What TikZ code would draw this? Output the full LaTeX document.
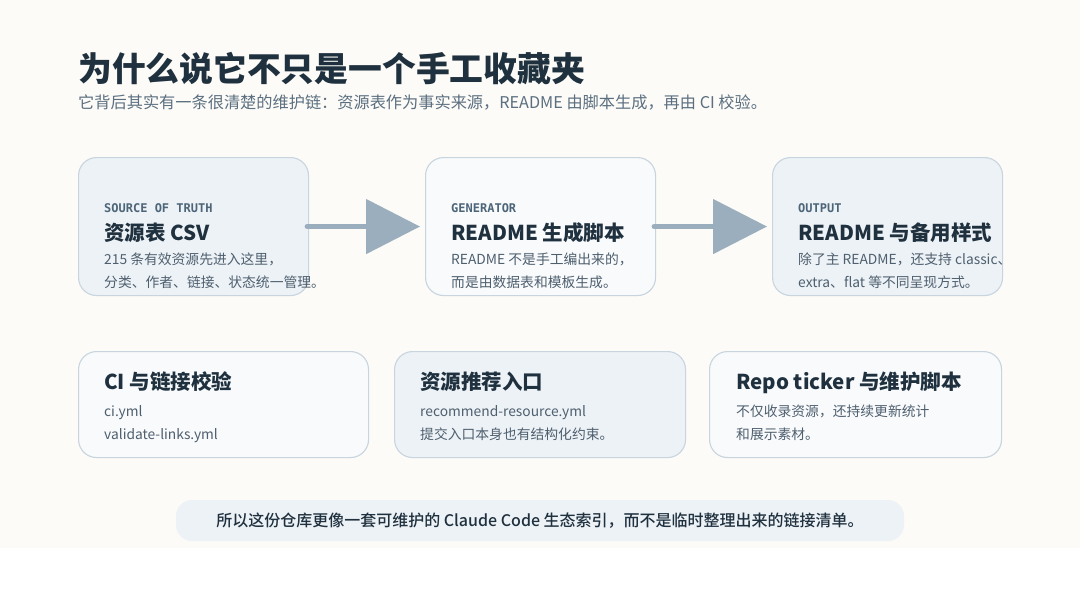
\documentclass[tikz,border=0pt]{standalone}
\usepackage{fontspec}
\setmainfont{Noto Sans CJK SC}
\newfontfamily\cjk{Noto Sans CJK SC}
\newfontfamily\cjkmed{Noto Sans CJK SC Medium}
\newfontfamily\monof{DejaVu Sans Mono}
\usetikzlibrary{arrows.meta}
\definecolor{bgcream}{HTML}{FCFBF7}
\definecolor{boxA}{HTML}{EDF2F6}
\definecolor{boxB}{HTML}{F8FAFC}
\definecolor{boxline}{HTML}{C8D5DF}
\definecolor{arrowc}{HTML}{9AAEBE}
\definecolor{titlec}{HTML}{1F303E}
\definecolor{subc}{HTML}{5B6F80}
\definecolor{labelc}{HTML}{4D6579}
\definecolor{bodyc}{HTML}{4E5F6E}
\definecolor{bannerc}{HTML}{EDF2F6}
\tikzset{
  card/.style={draw=boxline, line width=1.1pt, rounded corners=18pt, anchor=north west, inner sep=0pt},
  lbl/.style={anchor=base west, inner sep=0pt, text=labelc, font=\monof\bfseries\fontsize{12}{14}\selectfont},
  ctitle/.style={anchor=base west, inner sep=0pt, text=titlec, font=\cjk\bfseries\fontsize{20.5}{24}\selectfont},
  cbody/.style={anchor=base west, inner sep=0pt, text=bodyc, font=\cjk\fontsize{13.8}{16}\selectfont},
  flow/.style={draw=arrowc, line width=5pt, line cap=round, -{Triangle[length=54pt,width=54pt]}, shorten >=5pt}
}
\begin{document}
\begin{tikzpicture}[x=1pt,y=-1pt]
\useasboundingbox (0,0) rectangle (1080,608);
\fill[white] (0,0) rectangle (1080,608);
\fill[bgcream] (0,0) rectangle (1080,548);

\node[anchor=base west, inner sep=0pt, text=titlec, font=\cjk\bfseries\fontsize{33.8}{38}\selectfont] (title) at (78,81) {为什么说它不只是一个手工收藏夹};
\node[anchor=base west, inner sep=0pt, text=subc, font=\cjk\fontsize{16.2}{19}\selectfont] (sub) at (78,108) {它背后其实有一条很清楚的维护链：资源表作为事实来源，README 由脚本生成，再由 CI 校验。};

% top row cards
\node[card, fill=boxA, minimum width=230pt, minimum height=138pt] (b1) at (78,157) {};
\node[card, fill=boxB, minimum width=230pt, minimum height=138pt] (b2) at (425,157) {};
\node[card, fill=boxA, minimum width=230pt, minimum height=138pt] (b3) at (772,157) {};

\draw[flow] ([xshift=-2pt]b1.east) -- (b2.west);
\draw[flow] ([xshift=-2pt]b2.east) -- (b3.west);

\node[lbl] (l1) at (104,212) {SOURCE OF TRUTH};
\node[ctitle] (t1) at (104,240) {资源表 CSV};
\node[cbody] (d1a) at (104,264) {215 条有效资源先进入这里，};
\node[cbody] (d1b) at (104,287) {分类、作者、链接、状态统一管理。};

\node[lbl] (l2) at (451,212) {GENERATOR};
\node[ctitle] (t2) at (451,240) {README 生成脚本};
\node[cbody] (d2a) at (451,264) {README 不是手工编出来的，};
\node[cbody] (d2b) at (451,287) {而是由数据表和模板生成。};

\node[lbl] (l3) at (798,212) {OUTPUT};
\node[ctitle] (t3) at (798,240) {README 与备用样式};
\node[cbody] (d3a) at (798,264) {除了主 README，还支持 classic、};
\node[cbody] (d3b) at (798,287) {extra、flat 等不同呈现方式。};

% bottom row cards
\node[card, fill=boxB, minimum width=290pt, minimum height=106pt] (b4) at (78,351) {};
\node[card, fill=boxA, minimum width=291pt, minimum height=106pt] (b5) at (394,351) {};
\node[card, fill=boxB, minimum width=292pt, minimum height=106pt] (b6) at (709,351) {};

\node[ctitle] (t4) at (104,389) {CI 与链接校验};
\node[cbody] (d4a) at (104,416) {ci.yml};
\node[cbody] (d4b) at (104,439) {validate-links.yml};

\node[ctitle] (t5) at (420,389) {资源推荐入口};
\node[cbody] (d5a) at (420,416) {recommend-resource.yml};
\node[cbody] (d5b) at (420,439) {提交入口本身也有结构化约束。};

\node[ctitle] (t6) at (736,389) {Repo ticker 与维护脚本};
\node[cbody] (d6a) at (736,416) {不仅收录资源，还持续更新统计};
\node[cbody] (d6b) at (736,439) {和展示素材。};

% banner
\node[fill=bannerc, rounded corners=16pt, minimum width=728pt, minimum height=41pt, inner sep=0pt, text=titlec, font=\cjkmed\fontsize{16}{19}\selectfont] (banner) at (540,520.5) {所以这份仓库更像一套可维护的 Claude Code 生态索引，而不是临时整理出来的链接清单。};
\end{tikzpicture}
\end{document}
